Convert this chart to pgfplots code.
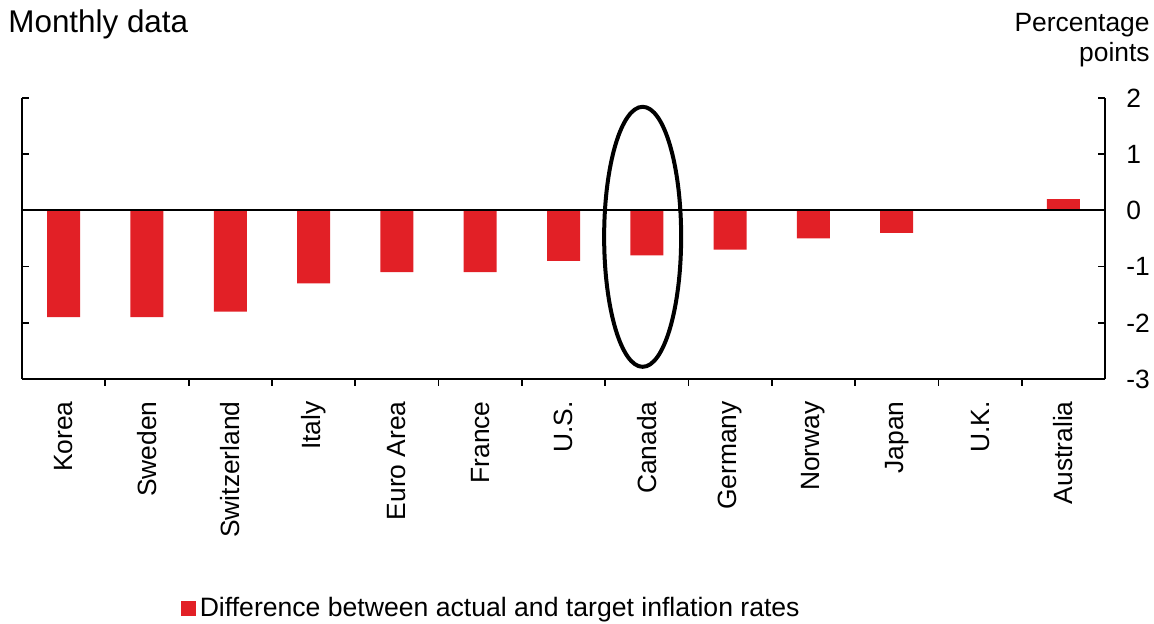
\documentclass[border=0pt]{standalone}
\usepackage{fontspec}
\setmainfont{Liberation Sans}
\usepackage{pgfplots}
\pgfplotsset{compat=1.18}
\definecolor{barred}{RGB}{226,32,38}
\begin{document}
\fontsize{13.2}{15.8}\selectfont
\begin{tikzpicture}
\useasboundingbox (-11pt,-122.5pt) rectangle (566pt,189.5pt);
\begin{axis}[
  at={(0pt,0pt)}, anchor=south west,
  scale only axis,
  width=541.5pt, height=140.5pt,
  xmin=-0.5, xmax=12.5,
  ymin=-3, ymax=2,
  axis x line*=bottom,
  axis line style={line width=0.9pt},
  every tick/.style={black, line width=0.9pt},
  xtick={0,...,12},
  xticklabels={Korea,Sweden,Switzerland,Italy,Euro Area,France,U.S.,Canada,Germany,Norway,Japan,U.K.,Australia},
  major x tick style={draw=none},
  minor xtick={0.5,1.5,...,11.5},
  minor tick length=3.5pt,
  major tick length=3.5pt,
  xticklabel style={rotate=90, anchor=east, inner sep=0pt, xshift=-7.5pt},
  ytick={-3,-2,-1,0,1,2},
  yticklabels={-3,-2,-1,0,1,2},
  yticklabel pos=right,
  yticklabel style={anchor=west, inner sep=0pt, xshift=10.5pt},
  ybar, bar width=16.5pt, bar shift=0pt,
  legend style={at={(0.1468,-0.8167)}, anchor=west, draw=none, inner sep=0pt,
    font=\fontsize{13.3}{16}\selectfont},
  legend image code/.code={\fill[barred] (0pt,-3.6pt) rectangle (7.2pt,3.6pt);},
]
\addplot[fill=barred, draw=none] coordinates {
  (0,-1.9) (1,-1.9) (2,-1.8) (3,-1.3) (4,-1.1) (5,-1.1) (6,-0.9)
  (7,-0.8) (8,-0.7) (9,-0.5) (10,-0.4) (11,0) (12,0.2)
};
\addlegendentry{Difference between actual and target inflation rates}
\draw[line width=1pt] (axis cs:-0.5,0) -- (axis cs:12.5,0);
\draw[line width=2pt] (axis cs:6.95,-0.47) ellipse [x radius=19.25pt, y radius=65pt];
\end{axis}
\node[anchor=base west, inner sep=0pt, font=\fontsize{15.7}{18}\selectfont] at (-7pt,173pt) {Monthly data};
\node[anchor=base east, inner sep=0pt] at (564pt,173.5pt) {Percentage};
\node[anchor=base east, inner sep=0pt] at (564pt,158.5pt) {points};
\end{tikzpicture}
\end{document}
